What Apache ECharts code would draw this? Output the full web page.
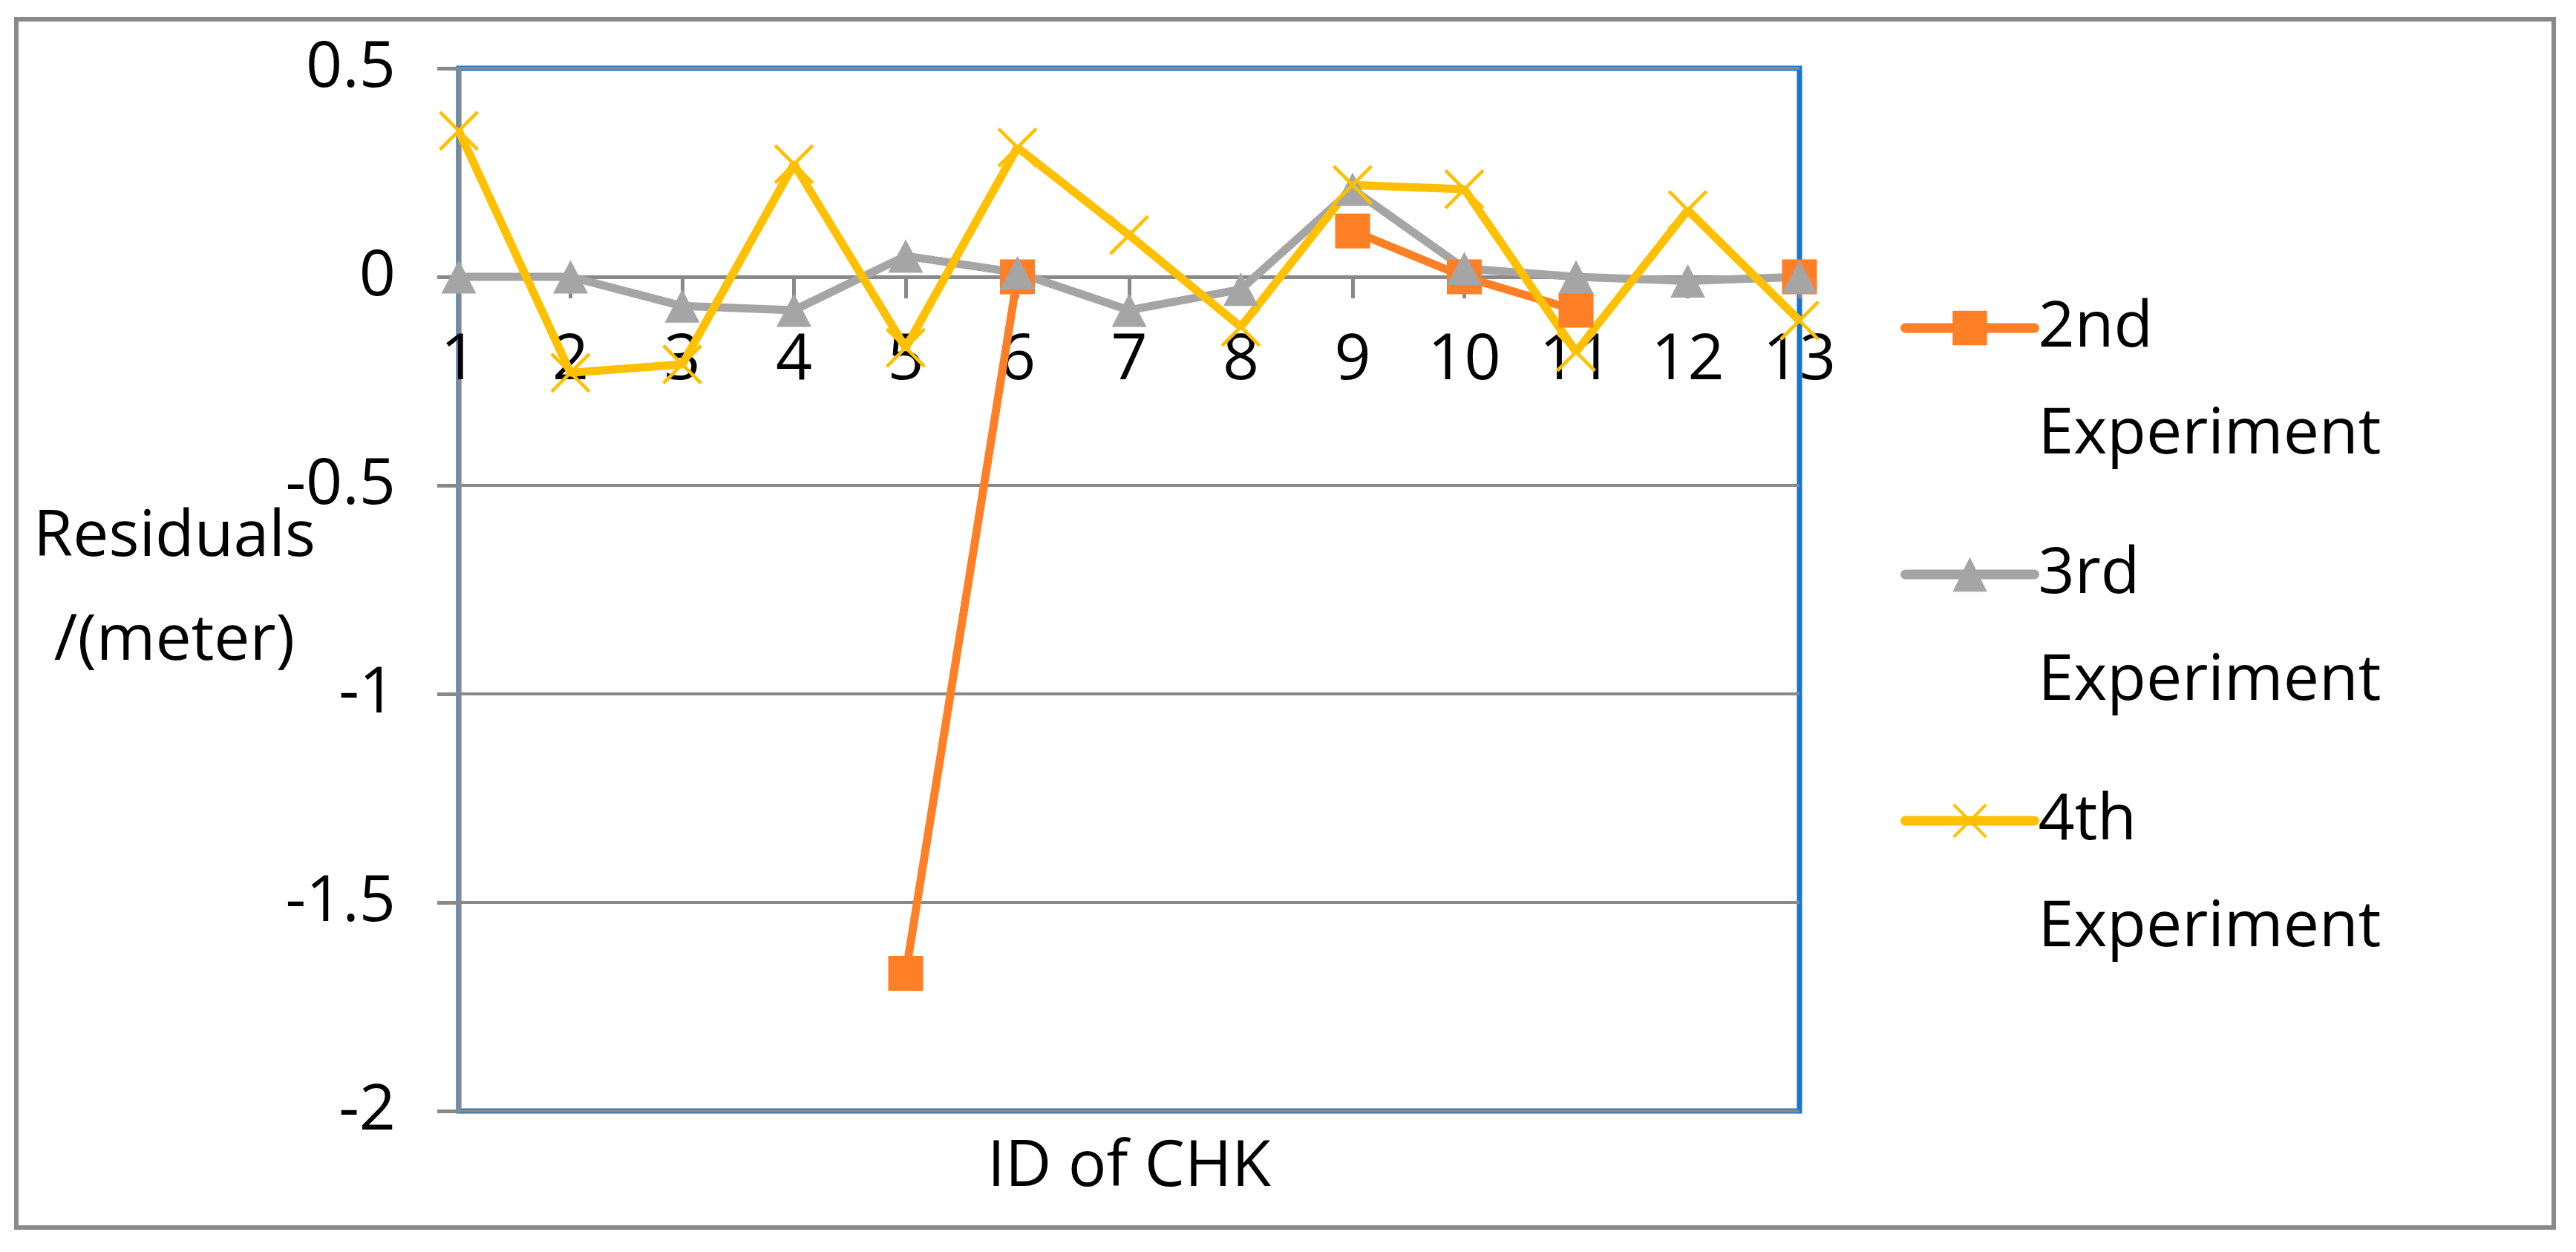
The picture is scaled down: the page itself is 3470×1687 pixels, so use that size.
<!DOCTYPE html>
<html>
<head>
<meta charset="utf-8">
<script src="https://cdn.jsdelivr.net/npm/echarts@6/dist/echarts.min.js"></script>
<style>
html,body{margin:0;padding:0;background:#fff;}
#chart{width:3470px;height:1687px;}
</style>
</head>
<body>
<div id="chart"></div>
<script>
// ---- data ----
const categories = ['1','2','3','4','5','6','7','8','9','10','11','12','13'];
const seriesNames = ['2nd Experiment','3rd Experiment','4th Experiment'];
const exp2 = [null, null, null, null, -1.67, 0, null, null, 0.11, 0, -0.08, null, 0];
const exp3 = [0, 0, -0.07, -0.08, 0.05, 0.01, -0.08, -0.03, 0.21, 0.02, 0, -0.01, 0];
const exp4 = [0.35, -0.23, -0.21, 0.27, -0.17, 0.31, 0.10, -0.12, 0.22, 0.21, -0.18, 0.16, -0.105];
const yTicks = {min: -2, max: 0.5, interval: 0.5};
const xTitle = 'ID of CHK';
const yTitle = 'Residuals\n/(meter)';

// ---- style ----
const FONT = '"Open Sans", "Noto Sans", sans-serif';
const FS = 86;
const GRAY = '#898989';
const C2 = '#FF7F27', C3 = '#A5A5A5', C4 = '#FFC000';
const XMARK = 'path://M0,6L6,0L50,44L94,0L100,6L56,50L100,94L94,100L50,56L6,100L0,94L44,50Z';

const chart = echarts.init(document.getElementById('chart'), null, {renderer: 'canvas'});
chart.setOption({
  backgroundColor: '#fff',
  animation: false,
  graphic: [{
    type: 'rect', z: -1,
    shape: {x: 22, y: 26, width: 3418, height: 1628},
    style: {fill: 'none', stroke: GRAY, lineWidth: 6}
  }],
  grid: {
    left: 618, top: 92, right: 1046, bottom: 190,
    containLabel: false, outerBoundsMode: 'none',
    show: true, borderColor: '#1874CD', borderWidth: 7, backgroundColor: 'transparent'
  },
  legend: {
    orient: 'vertical', left: 2560, top: 226, padding: 0,
    itemWidth: 174, itemHeight: 58, itemGap: -100,
    data: seriesNames,
    formatter: function (n) { return '\n' + n.replace(' ', '\n'); },
    textStyle: {fontFamily: FONT, fontSize: FS, lineHeight: 144, color: '#000'},
    lineStyle: {width: 13, cap: 'round'}
  },
  xAxis: {
    type: 'category', data: categories, boundaryGap: false,
    name: xTitle, nameLocation: 'middle', nameGap: 1200, nameMoveOverlap: false,
    nameTextStyle: {fontFamily: FONT, fontSize: FS, color: '#000', verticalAlign: 'middle'},
    axisLine: {onZero: false, lineStyle: {color: GRAY, width: 5}},
    axisTick: {show: true, alignWithLabel: true, length: 29, lineStyle: {color: GRAY, width: 5}},
    axisLabel: {fontFamily: FONT, fontSize: FS, color: '#000', margin: 70, interval: 0},
    splitLine: {show: false}
  },
  yAxis: {
    type: 'value', min: yTicks.min, max: yTicks.max, interval: yTicks.interval,
    name: yTitle, nameLocation: 'middle', nameGap: 383, nameRotate: 0, nameMoveOverlap: false,
    nameTextStyle: {fontFamily: FONT, fontSize: FS, lineHeight: 140, color: '#000', align: 'center', verticalAlign: 'middle'},
    axisLine: {show: true, lineStyle: {color: GRAY, width: 5}},
    axisTick: {show: true, length: 29, lineStyle: {color: GRAY, width: 5}},
    axisLabel: {fontFamily: FONT, fontSize: FS, color: '#000', margin: 85},
    splitLine: {show: true, lineStyle: {color: GRAY, width: 4}}
  },
  series: [
    {
      name: seriesNames[0], type: 'line', data: exp2, connectNulls: false,
      symbol: 'rect', symbolSize: 47, showAllSymbol: true,
      lineStyle: {color: C2, width: 11}, itemStyle: {color: C2}
    },
    {
      name: seriesNames[1], type: 'line', data: exp3,
      symbol: 'triangle', symbolSize: [47, 45], showAllSymbol: true,
      lineStyle: {color: C3, width: 11}, itemStyle: {color: C3}
    },
    {
      name: seriesNames[2], type: 'line', data: exp4,
      symbol: XMARK, symbolSize: 54, showAllSymbol: true,
      lineStyle: {color: C4, width: 11}, itemStyle: {color: C4}
    }
  ]
});
// move the category axis (line, ticks, labels) onto the y = 0 line, using the library's own scale
const zeroY = chart.convertToPixel({yAxisIndex: 0}, 0);
const bottomY = chart.convertToPixel({yAxisIndex: 0}, yTicks.min);
chart.setOption({xAxis: {offset: zeroY - bottomY}});
</script>
</body>
</html>
